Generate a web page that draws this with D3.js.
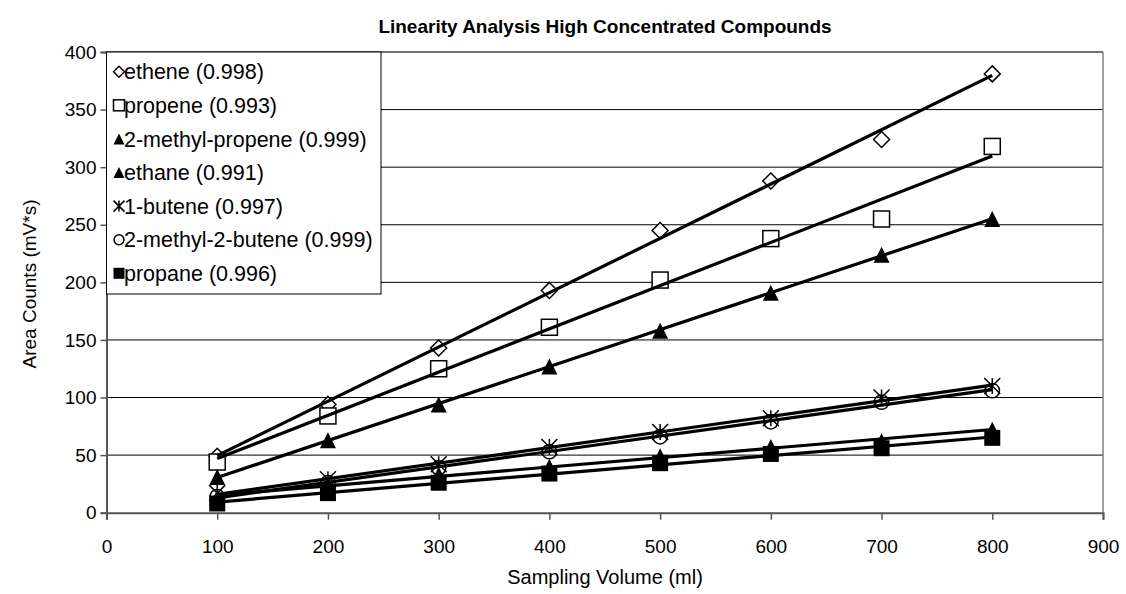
<!DOCTYPE html>
<html>
<head>
<meta charset="utf-8">
<script src="https://cdn.jsdelivr.net/npm/d3@7"></script>
<style>
  body { margin: 0; background: #fff; }
  text { font-family: "Liberation Sans", Arial, sans-serif; fill: #000; }
</style>
</head>
<body>
<svg id="chart" width="1126" height="594"></svg>
<script>
// sampling volumes (ml)
const volumes = [100, 200, 300, 400, 500, 600, 700, 800];

// area counts per compound
const ethene = [49, 94, 143, 193, 245, 288, 324, 381];
const propene = [44, 84, 125, 161, 202, 238, 255, 318];
const methylPropene = [31, 63, 94, 127, 158, 191, 224, 255];
const ethane = [13, 24, 33, 40, 49, 57, 62, 72];
const butene = [17, 29, 42, 57, 70, 82, 100, 110];
const methylButene = [14, 26, 39, 53, 66, 79, 96, 106];
const propane = [8, 17, 26, 34, 43, 51, 56, 65];

const seriesNames = [
  "ethene (0.998)", "propene (0.993)", "2-methyl-propene (0.999)", "ethane (0.991)",
  "1-butene (0.997)", "2-methyl-2-butene (0.999)", "propane (0.996)"
];
const seriesValues = [ethene, propene, methylPropene, ethane, butene, methylButene, propane];
const seriesMarkers = ["diamond", "square", "triangle", "triangle", "star", "circle", "filledSquare"];

const xTicks = [0, 100, 200, 300, 400, 500, 600, 700, 800, 900];
const yTicks = [0, 50, 100, 150, 200, 250, 300, 350, 400];

const svg = d3.select("#chart");

const x = d3.scaleLinear().domain([0, 900]).range([106.5, 1103]);
const y = d3.scaleLinear().domain([0, 400]).range([512.7, 52]);

// gridlines
svg.append("g")
  .selectAll("line")
  .data(yTicks.filter(d => d > 0))
  .enter()
  .append("line")
  .attr("x1", x(0))
  .attr("x2", x(900))
  .attr("y1", d => y(d))
  .attr("y2", d => y(d))
  .attr("stroke", d => d === 400 ? "#444" : "#000")
  .attr("stroke-width", d => d === 400 ? 1.5 : 1);

// right border of plot area
svg.append("line")
  .attr("x1", x(900)).attr("x2", x(900))
  .attr("y1", y(400)).attr("y2", y(0))
  .attr("stroke", "#808080")
  .attr("stroke-width", 1.5);

// axes
const xAxis = svg.append("g")
  .attr("transform", `translate(0,${y(0)})`)
  .call(d3.axisBottom(x).tickValues(xTicks).tickSize(7).tickPadding(20).tickFormat(d3.format("d")));
const yAxis = svg.append("g")
  .attr("transform", `translate(${x(0)},0)`)
  .call(d3.axisLeft(y).tickValues(yTicks).tickSize(6).tickPadding(4).tickFormat(d3.format("d")));

[xAxis, yAxis].forEach(a => {
  a.select(".domain").attr("stroke", "#555").attr("stroke-width", 2);
  a.selectAll(".tick line").attr("stroke", "#555").attr("stroke-width", 1.5);
  a.selectAll(".tick text")
    .style("font-family", "'Liberation Sans', Arial, sans-serif")
    .style("font-size", "19px")
    .attr("fill", "#000");
});

// marker drawing
function drawMarker(g, type, size) {
  const h = size / 2;
  if (type === "diamond") {
    g.append("path").attr("d", `M0,${-h}L${h},0L0,${h}L${-h},0Z`)
      .attr("fill", "#fff").attr("stroke", "#000").attr("stroke-width", 1.5);
  } else if (type === "square") {
    g.append("rect").attr("x", -h).attr("y", -h).attr("width", size).attr("height", size)
      .attr("fill", "#fff").attr("stroke", "#000").attr("stroke-width", 1.5);
  } else if (type === "filledSquare") {
    g.append("rect").attr("x", -h).attr("y", -h).attr("width", size).attr("height", size)
      .attr("fill", "#000");
  } else if (type === "triangle") {
    g.append("path").attr("d", `M0,${-h}L${h},${h}L${-h},${h}Z`).attr("fill", "#000");
  } else if (type === "circle") {
    g.append("circle").attr("r", h * 0.9)
      .attr("fill", "none").attr("stroke", "#000").attr("stroke-width", 1.5);
  } else if (type === "star") {
    g.append("path")
      .attr("d", `M${-h},${-h}L${h},${h}M${h},${-h}L${-h},${h}M0,${-h}L0,${h}`)
      .attr("stroke", "#000").attr("stroke-width", 1.5);
  }
}

// least-squares trend line from the points
function trend(values) {
  const mx = d3.mean(volumes), my = d3.mean(values);
  let num = 0, den = 0;
  volumes.forEach((v, i) => {
    num += (v - mx) * (values[i] - my);
    den += (v - mx) * (v - mx);
  });
  const slope = num / den;
  return v => my + slope * (v - mx);
}

const plot = svg.append("g");

seriesValues.forEach((values, i) => {
  const g = plot.append("g");
  volumes.forEach((v, j) => {
    const m = g.append("g").attr("transform", `translate(${x(v)},${y(values[j])})`);
    drawMarker(m, seriesMarkers[i], 16);
  });
});

// trend lines on top of markers
seriesValues.forEach(values => {
  const f = trend(values);
  const xs = [volumes[0], volumes[volumes.length - 1]];
  plot.append("line")
    .attr("x1", x(xs[0])).attr("y1", y(f(xs[0])))
    .attr("x2", x(xs[1])).attr("y2", y(f(xs[1])))
    .attr("stroke", "#000")
    .attr("stroke-width", 3.2);
});

// legend
const legend = svg.append("g");
legend.append("rect")
  .attr("x", 106.5).attr("y", 52)
  .attr("width", 274.5).attr("height", 242)
  .attr("fill", "#fff")
  .attr("stroke", "#000")
  .attr("stroke-width", 1);

const rows = legend.selectAll("g.row")
  .data(seriesNames)
  .enter()
  .append("g")
  .attr("class", "row")
  .attr("transform", (d, i) => `translate(119,${71.7 + i * 33.6})`);

rows.each(function(d, i) {
  drawMarker(d3.select(this), seriesMarkers[i], 11);
});
rows.append("text")
  .attr("x", 5)
  .attr("dy", "0.36em")
  .style("font-size", "21.5px")
  .text(d => d);

// titles
svg.append("text")
  .attr("x", 605).attr("y", 33)
  .attr("text-anchor", "middle")
  .style("font-size", "19px")
  .style("font-weight", "bold")
  .text("Linearity Analysis High Concentrated Compounds");

svg.append("text")
  .attr("x", 605).attr("y", 584)
  .attr("text-anchor", "middle")
  .style("font-size", "20px")
  .text("Sampling Volume (ml)");

svg.append("text")
  .attr("transform", "translate(36,284) rotate(-90)")
  .attr("text-anchor", "middle")
  .style("font-size", "19px")
  .text("Area Counts (mV*s)");
</script>
</body>
</html>
